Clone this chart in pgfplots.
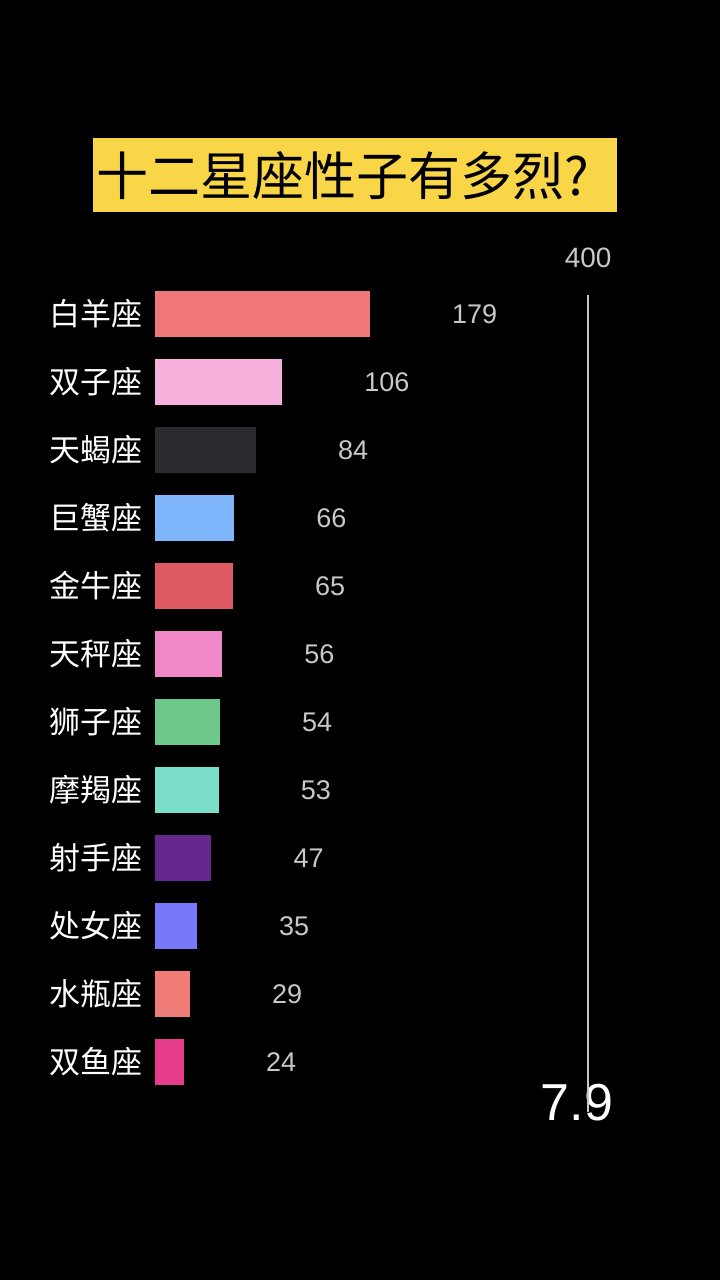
\documentclass[border=0pt]{standalone}
\usepackage{fontspec}
\setmainfont{Liberation Sans}
\newfontfamily\cjk{Noto Sans CJK SC}
\usepackage{pgfplots}
\pgfplotsset{compat=1.18}

\definecolor{titleyellow}{RGB}{249,214,72}
\definecolor{labelgray}{RGB}{200,200,200}
\definecolor{cA}{RGB}{240,120,120}
\definecolor{cB}{RGB}{245,176,220}
\definecolor{cC}{RGB}{43,42,46}
\definecolor{cD}{RGB}{127,181,250}
\definecolor{cE}{RGB}{224,90,100}
\definecolor{cF}{RGB}{240,136,200}
\definecolor{cG}{RGB}{110,200,138}
\definecolor{cH}{RGB}{122,222,200}
\definecolor{cI}{RGB}{100,40,140}
\definecolor{cJ}{RGB}{120,120,250}
\definecolor{cK}{RGB}{240,124,120}
\definecolor{cL}{RGB}{230,60,140}

\begin{document}
\begin{tikzpicture}
\fill[black, use as bounding box] (0,0) rectangle (720pt,1280pt);
% title box
\fill[titleyellow] (93pt,1068pt) rectangle (617pt,1142pt);
\node[anchor=west, inner sep=0pt, font=\cjk\fontsize{52}{56}\selectfont, text=black]
  at (96pt,1104pt) {十二星座性子有多烈?};
% counter in the corner
\node[font=\fontsize{52}{56}\selectfont, text=white, inner sep=0pt] at (577pt,177pt) {7.9};

\begin{axis}[
  at={(155pt,184pt)}, anchor=south west,
  scale only axis, width=480pt, height=816pt,
  xmin=0, xmax=400, ymin=-0.5, ymax=11.5,
  xbar, bar width=0.68, bar shift=0pt,
  axis line style={draw=none}, major tick style={draw=none},
  ytick={0,...,11},
  yticklabels={双鱼座,水瓶座,处女座,射手座,摩羯座,狮子座,天秤座,金牛座,巨蟹座,天蝎座,双子座,白羊座},
  yticklabel style={font=\cjk\fontsize{31}{33}\selectfont, text=white, inner sep=0pt, xshift=-8pt},
  xtick={361}, xticklabels={400}, xticklabel pos=upper,
  xticklabel style={font=\fontsize{28}{30}\selectfont, text=labelgray, inner sep=0pt, yshift=12pt},
  /pgf/number format/assume math mode=true,
  nodes near coords,
  nodes near coords style={anchor=west, xshift=82pt, inner sep=0pt,
    font=\fontsize{27}{30}\selectfont, text=labelgray},
  clip=false,
]
\addplot[fill=cA, draw=none] coordinates {(179,11)};
\addplot[fill=cB, draw=none] coordinates {(106,10)};
\addplot[fill=cC, draw=none] coordinates {(84,9)};
\addplot[fill=cD, draw=none] coordinates {(66,8)};
\addplot[fill=cE, draw=none] coordinates {(65,7)};
\addplot[fill=cF, draw=none] coordinates {(56,6)};
\addplot[fill=cG, draw=none] coordinates {(54,5)};
\addplot[fill=cH, draw=none] coordinates {(53,4)};
\addplot[fill=cI, draw=none] coordinates {(47,3)};
\addplot[fill=cJ, draw=none] coordinates {(35,2)};
\addplot[fill=cK, draw=none] coordinates {(29,1)};
\addplot[fill=cL, draw=none] coordinates {(24,0)};
% the moving scale line
\addplot[xbar=false, sharp plot, draw=labelgray, line width=1.6pt, nodes near coords={}, forget plot]
  coordinates {(361,11.28) (361,-0.73)};
\end{axis}
\end{tikzpicture}
\end{document}
